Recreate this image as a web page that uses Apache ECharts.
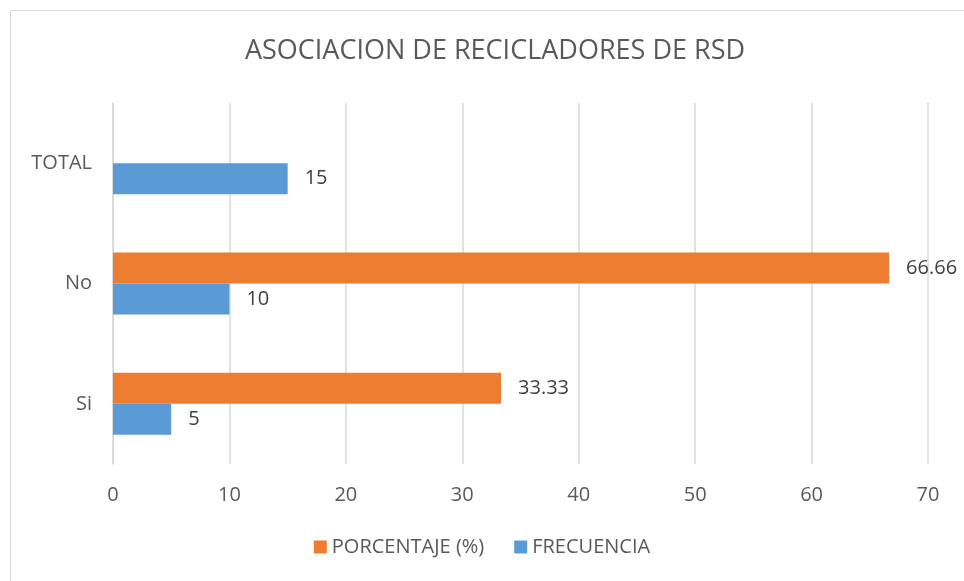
<!DOCTYPE html>
<html>
<head>
<meta charset="utf-8">
<script src="https://cdn.jsdelivr.net/npm/echarts@6/dist/echarts.min.js"></script>
<style>
  html, body { margin: 0; padding: 0; background: #fff; }
  #chart { width: 964px; height: 581px; }
</style>
</head>
<body>
<div id="chart"></div>
<script>
const categories = ['Si', 'No', 'TOTAL'];
const frecuencia = [5, 10, 15];
const porcentaje = [33.33, 66.66, null];
const xTicks = [0, 10, 20, 30, 40, 50, 60, 70];

const FONT = '"Open Sans", "Liberation Sans", sans-serif';

const chart = echarts.init(document.getElementById('chart'));
chart.setOption({
  animation: false,
  backgroundColor: '#fff',
  textStyle: { fontFamily: FONT },
  title: {
    text: 'ASOCIACION DE RECICLADORES DE RSD',
    left: 490,
    top: 33,
    textAlign: 'center',
    textStyle: { fontFamily: FONT, fontSize: 27, fontWeight: 'normal', color: '#595959' }
  },
  graphic: [{
    type: 'rect',
    shape: { x: 10.5, y: 10.5, width: 1000, height: 1000 },
    style: { fill: 'none', stroke: '#d9d9d9', lineWidth: 1 },
    silent: true
  }],
  legend: {
    data: ['PORCENTAJE (%)', 'FRECUENCIA'],
    bottom: 19,
    left: 'center',
    itemWidth: 13,
    itemHeight: 13,
    itemGap: 30,
    icon: 'rect',
    textStyle: { fontFamily: FONT, fontSize: 20, color: '#595959' }
  },
  grid: { left: 113, right: 36, top: 103, bottom: 117, containLabel: false },
  xAxis: {
    type: 'value',
    min: xTicks[0],
    max: xTicks[xTicks.length - 1],
    interval: 10,
    axisLine: { show: false },
    axisTick: { show: false },
    axisLabel: { fontFamily: FONT, fontSize: 20, color: '#595959', margin: 21 },
    splitLine: { lineStyle: { color: '#d9d9d9', width: 1.5 } }
  },
  yAxis: {
    type: 'category',
    data: categories,
    axisLine: { show: true, lineStyle: { color: '#d9d9d9', width: 1.5 } },
    axisTick: { show: false },
    axisLabel: { fontFamily: FONT, fontSize: 20, color: '#595959', margin: 21 }
  },
  series: [
    {
      name: 'PORCENTAJE (%)',
      type: 'bar',
      data: porcentaje,
      barWidth: 31,
      barGap: '0%',
      itemStyle: { color: '#ED7D31' },
      label: { show: true, position: 'right', distance: 17, fontFamily: FONT, fontSize: 20, color: '#404040' }
    },
    {
      name: 'FRECUENCIA',
      type: 'bar',
      data: frecuencia,
      barWidth: 31,
      barGap: '0%',
      itemStyle: { color: '#5B9BD5' },
      label: { show: true, position: 'right', distance: 17, fontFamily: FONT, fontSize: 20, color: '#404040' }
    }
  ]
});
</script>
</body>
</html>
